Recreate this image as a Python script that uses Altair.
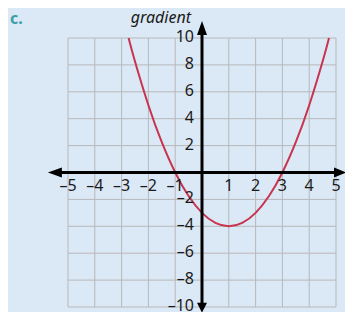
import altair as alt
import pandas as pd

# ---- data ----
x_ticks = [-5, -4, -3, -2, -1, 1, 2, 3, 4, 5]
y_ticks = [-10, -8, -6, -4, -2, 2, 4, 6, 8, 10]
grid_x = [-5, -4, -3, -2, -1, 0, 1, 2, 3, 4, 5]
grid_y = [-10, -8, -6, -4, -2, 0, 2, 4, 6, 8, 10]
curve_x = [-2.74, -2.5, -2.0, -1.5, -1.0, -0.5, 0.0, 0.5, 1.0, 1.5, 2.0, 2.5, 3.0, 3.5, 4.0, 4.5, 4.74]
curve_y = [10.0, 8.25, 5.0, 2.25, 0.0, -1.75, -3.0, -3.75, -4.0, -3.75, -3.0, -1.75, 0.0, 2.25, 5.0, 8.25, 10.0]
x_lim = [-5, 5]
y_lim = [-10, 10]
x_axis_ends = [-5.49, 5.15]
y_axis_ends = [-10.05, 10.74]

BG = "#dbe8f6"
GRID = "#b8b8b8"
CURVE = "#c8344e"
TEXT = "#1a1a1a"
FONT = "Noto Sans"

xs = alt.Scale(domain=x_lim, nice=False, zero=False)
ys = alt.Scale(domain=y_lim, nice=False, zero=False)

vgrid = pd.DataFrame({"x": grid_x, "y": y_lim[0], "y2": y_lim[1]})
hgrid = pd.DataFrame({"y": grid_y, "x": x_lim[0], "x2": x_lim[1]})
curve = pd.DataFrame({"x": curve_x, "y": curve_y})
xlab = pd.DataFrame({"x": x_ticks, "y": 0, "t": [("–" + str(-v)) if v < 0 else str(v) for v in x_ticks]})
ylab = pd.DataFrame({"x": 0, "y": y_ticks, "t": [("–" + str(-v)) if v < 0 else str(v) for v in y_ticks]})
xaxis = pd.DataFrame({"x": [x_axis_ends[0]], "x2": [x_axis_ends[1]], "y": [0]})
yaxis = pd.DataFrame({"y": [y_axis_ends[0]], "y2": [y_axis_ends[1]], "x": [0]})

vg = alt.Chart(vgrid).mark_rule(color=GRID, strokeWidth=1).encode(
    x=alt.X("x:Q", scale=xs, axis=None), y=alt.Y("y:Q", scale=ys, axis=None), y2="y2")
hg = alt.Chart(hgrid).mark_rule(color=GRID, strokeWidth=1).encode(
    y=alt.Y("y:Q", scale=ys, axis=None), x=alt.X("x:Q", scale=xs, axis=None), x2="x2")

line = alt.Chart(curve).mark_line(color=CURVE, strokeWidth=2, interpolate="natural").encode(
    x=alt.X("x:Q", scale=xs, axis=None), y=alt.Y("y:Q", scale=ys, axis=None))

xa = alt.Chart(xaxis).mark_rule(color="black", strokeWidth=3).encode(
    x=alt.X("x:Q", scale=xs, axis=None), x2="x2", y=alt.Y("y:Q", scale=ys, axis=None))
ya = alt.Chart(yaxis).mark_rule(color="black", strokeWidth=3).encode(
    y=alt.Y("y:Q", scale=ys, axis=None), y2="y2", x=alt.X("x:Q", scale=xs, axis=None))

up = "M0,-1.4L-1,1.4L1,1.4Z"
down = "M0,1.0L-1,-1.0L1,-1.0Z"
left = "M-1.4,0L1.4,-1L1.4,1Z"
right = "M1.2,0L-1.2,-1L-1.2,1Z"

def head(px, py, shape):
    return alt.Chart(pd.DataFrame({"x": [px], "y": [py]})).mark_point(
        shape=shape, filled=True, color="black", opacity=1, size=100, strokeWidth=0).encode(
        x=alt.X("x:Q", scale=xs, axis=None), y=alt.Y("y:Q", scale=ys, axis=None))

heads = (head(0, y_axis_ends[1], up) + head(0, y_axis_ends[0], down)
         + head(x_axis_ends[0], 0, left) + head(x_axis_ends[1], 0, right))

xl = alt.Chart(xlab).mark_text(font=FONT, fontSize=16, color=TEXT, align="center",
                               baseline="middle", dy=13).encode(
    x=alt.X("x:Q", scale=xs, axis=None), y=alt.Y("y:Q", scale=ys, axis=None), text="t:N")
yl = alt.Chart(ylab).mark_text(font=FONT, fontSize=16, color=TEXT, align="right",
                               baseline="middle", dx=-8, dy=-1).encode(
    x=alt.X("x:Q", scale=xs, axis=None), y=alt.Y("y:Q", scale=ys, axis=None), text="t:N")

lab_c = alt.Chart(pd.DataFrame({"t": ["c."]})).mark_text(
    font=FONT, fontSize=16, fontWeight="bold", color="#3a9ea6", align="left", baseline="alphabetic").encode(
    x=alt.value(-58), y=alt.value(-14), text="t:N")
lab_g = alt.Chart(pd.DataFrame({"t": ["gradient"]})).mark_text(
    font=FONT, fontSize=16, fontStyle="italic", color=TEXT, align="right", baseline="alphabetic").encode(
    x=alt.value(123), y=alt.value(-15), text="t:N")

chart = alt.layer(vg, hg, line, xa, ya, heads, xl, yl, lab_c, lab_g).properties(
    width=268, height=269,
    padding={"left": 60, "top": 30, "right": 9, "bottom": 5},
    autosize=alt.AutoSizeParams(type="none"),
    background=BG,
).configure_view(stroke=None)

chart.save("out.html", embed_options={"renderer": "svg", "actions": False})
